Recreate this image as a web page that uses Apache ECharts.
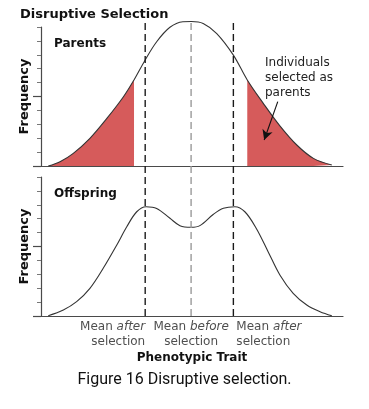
<!DOCTYPE html>
<html>
<head>
<meta charset="utf-8">
<style>
  html, body { margin: 0; padding: 0; background: #fff; }
  #chart { width: 369px; height: 409px; }
</style>
<script src="https://cdn.jsdelivr.net/npm/echarts@6/dist/echarts.min.js"></script>
</head>
<body>
<div id="chart"></div>
<script>
// ---- data ----
const parentsTrait = [-4.76,-4.37,-3.93,-3.38,-2.82,-2.27,-1.92,-1.55,-1.17,-0.73,-0.30,-0.02,0.37,0.82,1.37,1.83,2.36,2.91,3.47,4.02,4.63];
const parentsFreq  = [0,0.31,0.91,1.99,3.42,4.98,6.19,7.63,8.94,9.98,10.38,10.40,10.26,9.53,7.98,6.19,4.51,2.89,1.51,0.55,0.07];
const offspringTrait = [-4.76,-4.26,-3.82,-3.38,-2.94,-2.49,-2.16,-1.83,-1.52,-1.17,-0.73,-0.40,-0.03,0.26,0.71,1.04,1.42,1.75,2.13,2.52,2.91,3.35,3.80,4.24,4.63];
const offspringFreq  = [0.02,0.43,1.03,1.99,3.43,5.11,6.42,7.5,7.86,7.74,7.03,6.5,6.38,6.5,7.32,7.75,7.86,7.5,6.3,4.63,2.95,1.63,0.79,0.31,0.02];
const selectedLeftEnd = -1.92;     // parents selected below this trait value
const selectedRightStart = 1.83;   // parents selected above this trait value
const meanAfterLeft = -1.55;
const meanBefore = -0.03;
const meanAfterRight = 1.37;
const meanLabels = [
  ['Mean ', 'after', 'selection'],
  ['Mean ', 'before', 'selection'],
  ['Mean ', 'after', 'selection']
];
const freqMinorTicks = [1,2,3,4,6,7,8,9,10];
const freqMajorTicks = [0,5];
const arrowFrom = [2.84, 4.63];
const arrowTo = [2.39, 1.87];

// ---- build ----
const zip = (xs, ys) => xs.map((x, i) => [x, ys[i]]);
const parents = zip(parentsTrait, parentsFreq);
const offspring = zip(offspringTrait, offspringFreq);
const fillLeft = parents.filter(p => p[0] <= selectedLeftEnd);
const fillRight = parents.filter(p => p[0] >= selectedRightStart);

const FONT = 'DejaVu Sans, Verdana, sans-serif';
const AXC = '#4a4a4a';
const RED = '#d65b5b';

function xAx(gi, extra) {
  return Object.assign({
    type: 'value', gridIndex: gi, min: -5, max: 5,
    axisLine: { show: true, onZero: false, lineStyle: { color: AXC, width: 1.2 } },
    axisTick: { show: false }, axisLabel: { show: false }, splitLine: { show: false }
  }, extra || {});
}
function yMinor(gi) {
  return {
    type: 'value', gridIndex: gi, min: 0, max: 10, interval: 1, position: 'left', offset: 0,
    name: 'Frequency', nameLocation: 'middle', nameGap: 10, nameRotate: 90,
    nameTextStyle: { fontFamily: FONT, fontWeight: 'bold', fontSize: 13, color: '#111' },
    axisLine: { show: true, onZero: false, lineStyle: { color: AXC, width: 1.2 } },
    axisTick: { show: true, length: 4, customValues: freqMinorTicks, lineStyle: { color: '#777', width: 1 } },
    axisLabel: { show: false }, splitLine: { show: false }
  };
}
function yMajor(gi) {
  return {
    type: 'value', gridIndex: gi, min: 0, max: 10, interval: 5, position: 'left', offset: 0,
    axisLine: { show: false, onZero: false },
    axisTick: { show: true, length: 8, customValues: freqMajorTicks, lineStyle: { color: AXC, width: 1.2 } },
    axisLabel: { show: false }, splitLine: { show: false }
  };
}

const dashSeries = (x, color) => ({
  type: 'line', xAxisIndex: 2, yAxisIndex: 4, data: [[x, 0], [x, 1]],
  symbol: 'none', silent: true, z: 5,
  lineStyle: { color: color, width: 1.4, type: [7, 4] }
});

const meanX = [meanAfterLeft, meanBefore, meanAfterRight];
const meanAlign = ['right', 'center', 'left'];
const meanOffset = [[0, 0], [0, 0], [3, 0]];

const option = {
  animation: false,
  backgroundColor: '#fff',
  title: [
    { text: 'Disruptive Selection', left: 20, top: 8, padding: 0,
      textStyle: { fontFamily: FONT, fontWeight: 'bold', fontSize: 13, color: '#111' } },
    { text: 'Parents', left: 54, top: 38, padding: 0,
      textStyle: { fontFamily: FONT, fontWeight: 'bold', fontSize: 12, color: '#111' } },
    { text: 'Offspring', left: 54, top: 188, padding: 0,
      textStyle: { fontFamily: FONT, fontWeight: 'bold', fontSize: 12, color: '#111' } },
    { text: 'Individuals\nselected as\nparents', left: 265, top: 55, padding: 0,
      textStyle: { fontFamily: FONT, fontWeight: 'normal', fontSize: 12, lineHeight: 15, color: '#222' } },
    { text: 'Figure 16 Disruptive selection.', left: 'center', top: 372, padding: 0,
      textStyle: { fontFamily: 'Roboto, sans-serif', fontWeight: 'normal', fontSize: 16, color: '#111' } }
  ],
  grid: [
    { left: 41, width: 302, top: 27, height: 139 },
    { left: 41, width: 302, top: 177, height: 139 },
    { left: 41, width: 302, top: 21, height: 295 }
  ],
  xAxis: [
    xAx(0),
    xAx(1, { name: 'Phenotypic Trait', nameLocation: 'middle', nameGap: 36,
      nameTextStyle: { fontFamily: FONT, fontWeight: 'bold', fontSize: 12, color: '#111' } }),
    xAx(2, { show: false })
  ],
  yAxis: [
    yMinor(0), yMajor(0), yMinor(1), yMajor(1),
    { type: 'value', gridIndex: 2, min: 0, max: 1, show: false }
  ],
  series: [
    { type: 'line', xAxisIndex: 0, yAxisIndex: 0, data: fillLeft, smooth: 0.35, clip: false,
      symbol: 'none', silent: true, z: 1, lineStyle: { width: 0 }, areaStyle: { color: RED, opacity: 1 } },
    { type: 'line', xAxisIndex: 0, yAxisIndex: 0, data: fillRight, smooth: 0.35, clip: false,
      symbol: 'none', silent: true, z: 1, lineStyle: { width: 0 }, areaStyle: { color: RED, opacity: 1 } },
    { type: 'line', xAxisIndex: 0, yAxisIndex: 0, data: parents, smooth: 0.35, clip: false,
      symbol: 'none', silent: true, z: 3, lineStyle: { color: '#333', width: 1.1 },
      markLine: {
        silent: true, symbol: ['none', 'arrow'], symbolSize: [8, 10],
        label: { show: false },
        lineStyle: { color: '#111', width: 1.1, type: 'solid' },
        data: [[{ coord: arrowFrom }, { coord: arrowTo }]]
      } },
    { type: 'line', xAxisIndex: 1, yAxisIndex: 2, data: offspring, smooth: 0.35, clip: false,
      symbol: 'none', silent: true, z: 3, lineStyle: { color: '#333', width: 1.1 } },
    dashSeries(meanAfterLeft, '#1a1a1a'),
    dashSeries(meanBefore, '#999999'),
    dashSeries(meanAfterRight, '#1a1a1a'),
    { type: 'scatter', xAxisIndex: 1, yAxisIndex: 2, symbolSize: 0, silent: true, clip: false,
      data: meanX.map((x, i) => ({
        value: [x, 0],
        label: {
          show: true, position: 'bottom', distance: 3, align: meanAlign[i], offset: meanOffset[i],
          color: '#222', fontFamily: FONT, fontSize: 12,
          formatter: '{n|' + meanLabels[i][0] + '}{it|' + meanLabels[i][1] + '}\n{n|' + meanLabels[i][2] + '}',
          rich: {
            n: { fontFamily: FONT, fontSize: 12, lineHeight: 15, color: '#222', align: meanAlign[i] },
            it: { fontFamily: FONT, fontSize: 12, lineHeight: 15, color: '#222', fontStyle: 'italic', align: meanAlign[i] }
          }
        }
      }))
    }
  ]
};

const chart = echarts.init(document.getElementById('chart'), null, { renderer: 'canvas' });
chart.setOption(option);
</script>
</body>
</html>
